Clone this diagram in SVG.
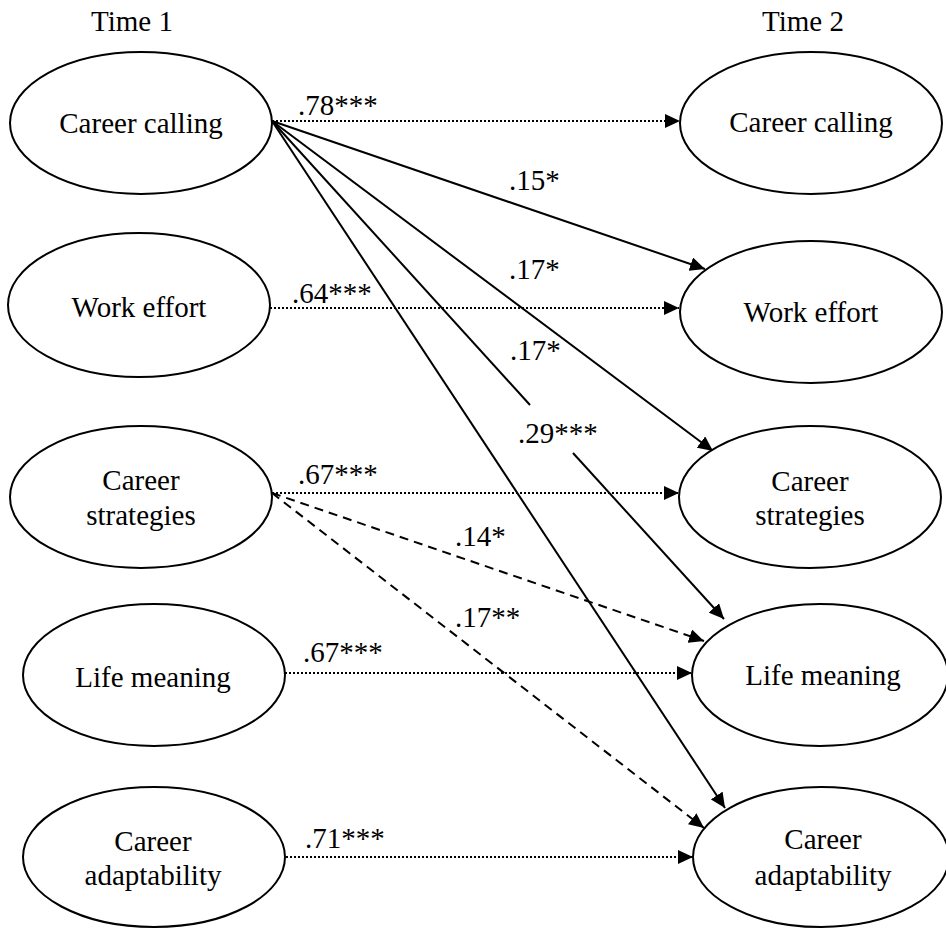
<svg xmlns="http://www.w3.org/2000/svg" width="946" height="928" viewBox="0 0 946 928">
<style>
text{font-family:"Liberation Serif","Times New Roman",serif;font-size:29px;fill:#000}
.n text{text-anchor:middle}
ellipse{fill:#fff;stroke:#000;stroke-width:2}
.c line{stroke:#000;stroke-width:2;fill:none}
.dot{stroke-dasharray:2 2}
.dash{stroke-dasharray:9 6}
</style>
<defs>
<marker id="ah" markerUnits="userSpaceOnUse" markerWidth="16" markerHeight="14" refX="15" refY="7" orient="auto">
<path d="M0,0 L15,7 L0,14 z" fill="#000"/>
</marker>
</defs>
<rect width="946" height="928" fill="#fff"/>
<text x="132" y="31" text-anchor="middle">Time 1</text>
<text x="803" y="31" text-anchor="middle">Time 2</text>
<g class="c" id="connectors">
<line class="dot" x1="272" y1="121" x2="680" y2="121" marker-end="url(#ah)"/>
<line class="dot" x1="270" y1="308" x2="679" y2="308" marker-end="url(#ah)"/>
<line class="dot" x1="272" y1="493" x2="679" y2="493" marker-end="url(#ah)"/>
<line class="dot" x1="285" y1="673" x2="692" y2="673" marker-end="url(#ah)"/>
<line class="dot" x1="286" y1="857" x2="693" y2="857" marker-end="url(#ah)"/>
<line x1="272" y1="121" x2="705" y2="269" marker-end="url(#ah)"/>
<line x1="272" y1="121" x2="713" y2="451" marker-end="url(#ah)"/>
<line x1="272" y1="121" x2="530" y2="405"/>
<line x1="573" y1="453" x2="724" y2="619" marker-end="url(#ah)"/>
<line x1="272" y1="121" x2="725" y2="808" marker-end="url(#ah)"/>
<line class="dash" x1="272" y1="493" x2="704" y2="641" marker-end="url(#ah)"/>
<line class="dash" x1="272" y1="493" x2="704" y2="828" marker-end="url(#ah)"/>
<text x="298" y="115">.78***</text>
<text x="509" y="190">.15*</text>
<text x="509" y="279">.17*</text>
<text x="292" y="303">.64***</text>
<text x="510" y="360">.17*</text>
<text x="518" y="443">.29***</text>
<text x="298" y="484">.67***</text>
<text x="455" y="546">.14*</text>
<text x="455" y="627">.17**</text>
<text x="303" y="662">.67***</text>
<text x="305" y="848">.71***</text>
</g>
<g class="n" id="t1-calling"><ellipse cx="141" cy="123" rx="131" ry="71"/><text x="141" y="133">Career calling</text></g>
<g class="n" id="t1-effort"><ellipse cx="139" cy="305" rx="131" ry="72"/><text x="139" y="317">Work effort</text></g>
<g class="n" id="t1-strategies"><ellipse cx="141" cy="497" rx="131" ry="71"/><text x="141" y="490">Career</text><text x="141" y="525">strategies</text></g>
<g class="n" id="t1-meaning"><ellipse cx="154" cy="675" rx="131" ry="71"/><text x="153" y="687">Life meaning</text></g>
<g class="n" id="t1-adapt"><ellipse cx="154" cy="857" rx="131" ry="70"/><text x="153" y="851">Career</text><text x="153" y="885">adaptability</text></g>
<g class="n" id="t2-calling"><ellipse cx="811" cy="123" rx="131" ry="71"/><text x="811" y="132">Career calling</text></g>
<g class="n" id="t2-effort"><ellipse cx="811" cy="312" rx="131" ry="71"/><text x="811" y="322">Work effort</text></g>
<g class="n" id="t2-strategies"><ellipse cx="810" cy="497" rx="131" ry="71"/><text x="810" y="491">Career</text><text x="810" y="525">strategies</text></g>
<g class="n" id="t2-meaning"><ellipse cx="820" cy="675" rx="128" ry="71"/><text x="823" y="685">Life meaning</text></g>
<g class="n" id="t2-adapt"><ellipse cx="821" cy="857" rx="128" ry="70"/><text x="823" y="849">Career</text><text x="823" y="885">adaptability</text></g>
</svg>
